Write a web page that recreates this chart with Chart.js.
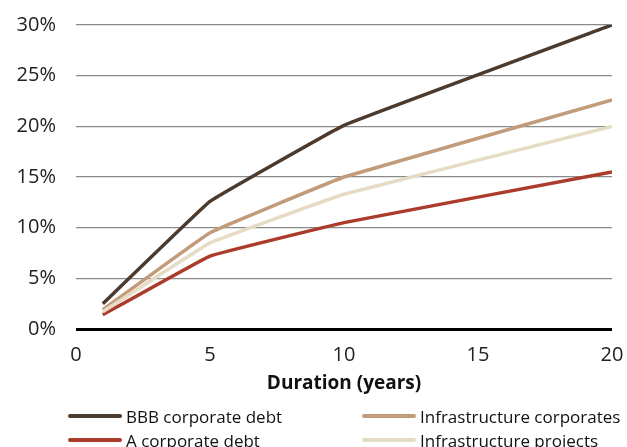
<!DOCTYPE html>
<html>
<head>
<meta charset="utf-8">
<script src="https://cdn.jsdelivr.net/npm/chart.js@4"></script>
<style>
html,body{margin:0;padding:0;background:#fff;}
#wrap{position:relative;width:627px;height:447px;overflow:hidden;}
#legend{position:absolute;left:0;top:0;width:627px;height:447px;font-family:"Open Sans",sans-serif;font-size:17px;color:#111;pointer-events:none;}
.li{position:absolute;display:flex;align-items:center;white-space:nowrap;height:24px;transform:translateY(-50%);}
.sw{display:inline-block;width:54px;height:3.5px;margin-right:4px;border-radius:2px;}
</style>
</head>
<body>
<div id="wrap">
<canvas id="c" width="627" height="447"></canvas>
<div id="legend"></div>
</div>
<script>
const durations = [1, 5, 10, 20];
const seriesNames = ["BBB corporate debt", "Infrastructure corporates", "A corporate debt", "Infrastructure projects"];
const bbbCorporate = [2.5, 12.6, 20.1, 30.0];
const infraCorporates = [1.9, 9.5, 15.0, 22.6];
const aCorporate = [1.4, 7.2, 10.5, 15.5];
const infraProjects = [1.7, 8.5, 13.3, 20.0];
const xTicks = [0, 5, 10, 15, 20];
const yTicks = [0, 5, 10, 15, 20, 25, 30];
const colors = ["#4b3a2e", "#c29b7a", "#ab3b2b", "#e6dcc5"];

const seriesValues = [bbbCorporate, infraCorporates, aCorporate, infraProjects];
const drawOrder = [3, 2, 1, 0];
const datasets = seriesValues.map((vals, i) => ({
  label: seriesNames[i],
  data: durations.map((d, j) => ({x: d, y: vals[j]})),
  borderColor: colors[i],
  backgroundColor: colors[i],
  borderWidth: 3.5,
  pointRadius: 0,
  tension: 0.06,
  fill: false,
  order: drawOrder[i]
}));

const font = {family: "'Open Sans', sans-serif", size: 20};
const chart = new Chart(document.getElementById('c'), {
  type: 'line',
  data: {datasets},
  options: {
    responsive: false,
    animation: false,
    layout: {autoPadding: false, padding: {top: 25, right: 15, left: 14, bottom: 52}},
    plugins: {legend: {display: false}, tooltip: {enabled: false}},
    scales: {
      x: {
        type: 'linear', min: 0, max: 20,
        afterBuildTicks: ax => { ax.ticks = xTicks.map(v => ({value: v})); },
        afterFit: s => { s.height = 66; s.paddingLeft = 0; s.paddingRight = 0; },
        grid: {display: false, drawTicks: false},
        border: {display: false},
        ticks: {font, color: '#222', padding: 14, maxRotation: 0},
        title: {display: true, text: 'Duration (years)', font: {family: "'Open Sans', sans-serif", size: 19, weight: 'bold'}, color: '#111', padding: {top: 6, bottom: 0}}
      },
      y: {
        min: 0, max: 30,
        afterBuildTicks: ax => { ax.ticks = yTicks.map(v => ({value: v})); },
        afterFit: s => { s.width = 62; s.paddingTop = 0; s.paddingBottom = 0; },
        grid: {
          drawTicks: false,
          color: c => c.tick && c.tick.value === 0 ? '#000' : '#8a8a8a',
          lineWidth: c => c.tick && c.tick.value === 0 ? 3 : 1.2
        },
        border: {display: false},
        ticks: {font, color: '#222', padding: 20, callback: v => v + '%'}
      }
    }
  }
});

const leg = document.getElementById('legend');
const pos = [[68, 416], [362, 416], [68, 440], [362, 440]];
seriesNames.forEach((n, i) => {
  const d = document.createElement('div');
  d.className = 'li';
  d.style.left = pos[i][0] + 'px';
  d.style.top = pos[i][1] + 'px';
  d.innerHTML = '<span class="sw" style="background:' + colors[i] + '"></span><span>' + n + '</span>';
  leg.appendChild(d);
});
</script>
</body>
</html>
